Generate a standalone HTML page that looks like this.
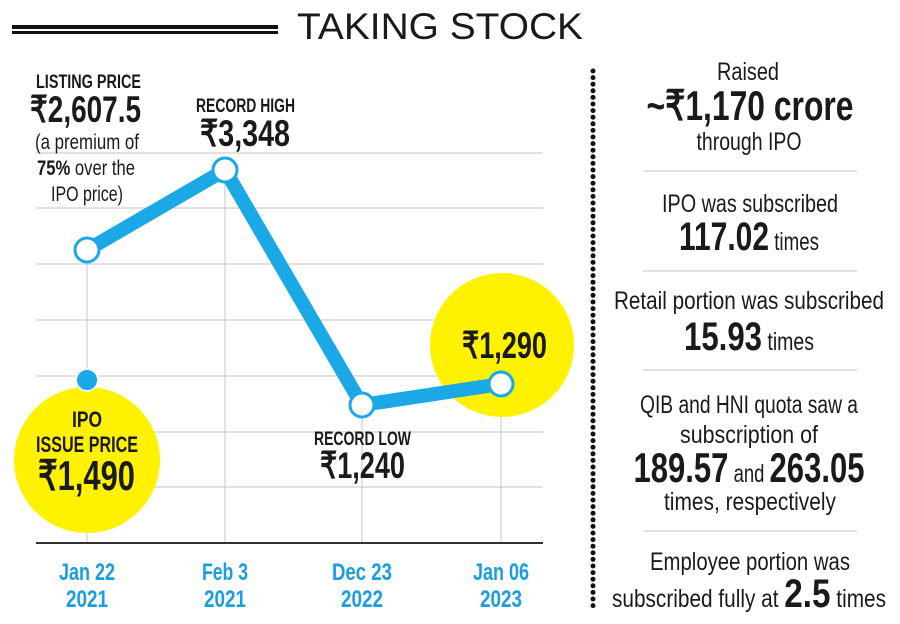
<!DOCTYPE html>
<html><head><meta charset="utf-8"><style>
html,body{margin:0;padding:0;background:#fff;}
svg{display:block;}
text{font-family:"Liberation Sans Narrow","Liberation Sans",sans-serif;fill:#1a1a1a;}
.b{font-weight:bold;}
.x{fill:#1a9ee0;font-weight:bold;font-size:24px;}
</style></head><body>
<svg width="900" height="624" viewBox="0 0 900 624" xmlns="http://www.w3.org/2000/svg">
<rect x="12" y="25" width="266" height="4" fill="#111"/>
<rect x="12" y="31" width="266" height="3" fill="#111"/>
<text x="297" y="39" font-size="37" textLength="286" lengthAdjust="spacingAndGlyphs" style="font-family:'Liberation Sans',sans-serif">TAKING STOCK</text>
<g stroke="#cfcfcf" stroke-width="1.2">
<line x1="36" y1="153" x2="543" y2="153"/><line x1="36" y1="208" x2="543" y2="208"/>
<line x1="36" y1="264" x2="543" y2="264"/><line x1="36" y1="320" x2="543" y2="320"/>
<line x1="36" y1="376" x2="543" y2="376"/><line x1="36" y1="432" x2="543" y2="432"/>
<line x1="36" y1="487" x2="543" y2="487"/>
<line x1="87" y1="240" x2="87" y2="543"/><line x1="225" y1="160" x2="225" y2="543"/>
<line x1="362" y1="400" x2="362" y2="543"/><line x1="501" y1="380" x2="501" y2="543"/>
</g>
<line x1="36" y1="543" x2="543" y2="543" stroke="#333" stroke-width="2"/>
<circle cx="87" cy="460" r="73" fill="#fff200"/>
<circle cx="502" cy="345" r="72" fill="#fff200"/>
<circle cx="87" cy="380" r="11" fill="#1aa8e6" stroke="#fff" stroke-width="2"/>
<polyline points="87,250 225,170 362,405 501,384" fill="none" stroke="#1aa8e6" stroke-width="14" stroke-linejoin="round"/>
<g fill="#fff" stroke="#1aa8e6" stroke-width="3">
<circle cx="87" cy="250" r="12"/><circle cx="225" cy="170" r="12"/>
<circle cx="362" cy="405" r="12"/><circle cx="501" cy="384" r="12"/>
</g>
<text class="b" x="36" y="88" font-size="19" textLength="105" lengthAdjust="spacingAndGlyphs">LISTING PRICE</text>
<text class="b" x="30" y="122" font-size="37" textLength="111" lengthAdjust="spacingAndGlyphs">₹2,607.5</text>
<text x="35" y="149" font-size="21" textLength="104" lengthAdjust="spacingAndGlyphs">(a premium of</text>
<text x="37" y="175" font-size="21" textLength="98" lengthAdjust="spacingAndGlyphs"><tspan class="b">75%</tspan> over the</text>
<text x="51" y="201" font-size="21" textLength="72" lengthAdjust="spacingAndGlyphs">IPO price)</text>
<text class="b" x="196" y="112" font-size="19" textLength="99" lengthAdjust="spacingAndGlyphs">RECORD HIGH</text>
<text class="b" x="200" y="146" font-size="37" textLength="90" lengthAdjust="spacingAndGlyphs">₹3,348</text>
<text class="b" x="72" y="427" font-size="22" textLength="30" lengthAdjust="spacingAndGlyphs">IPO</text>
<text class="b" x="36" y="452" font-size="22" textLength="102" lengthAdjust="spacingAndGlyphs">ISSUE PRICE</text>
<text class="b" x="38" y="490" font-size="42" textLength="97" lengthAdjust="spacingAndGlyphs">₹1,490</text>
<text class="b" x="462" y="358" font-size="37" textLength="85" lengthAdjust="spacingAndGlyphs">₹1,290</text>
<text class="b" x="314" y="445" font-size="19" textLength="97" lengthAdjust="spacingAndGlyphs">RECORD LOW</text>
<text class="b" x="320" y="478" font-size="37" textLength="85" lengthAdjust="spacingAndGlyphs">₹1,240</text>
<g text-anchor="middle">
<text class="x" x="87" y="580" textLength="56" lengthAdjust="spacingAndGlyphs">Jan 22</text><text class="x" x="87" y="607" textLength="42" lengthAdjust="spacingAndGlyphs">2021</text>
<text class="x" x="225" y="580" textLength="46" lengthAdjust="spacingAndGlyphs">Feb 3</text><text class="x" x="225" y="607" textLength="42" lengthAdjust="spacingAndGlyphs">2021</text>
<text class="x" x="362" y="580" textLength="60" lengthAdjust="spacingAndGlyphs">Dec 23</text><text class="x" x="362" y="607" textLength="42" lengthAdjust="spacingAndGlyphs">2022</text>
<text class="x" x="501" y="580" textLength="56" lengthAdjust="spacingAndGlyphs">Jan 06</text><text class="x" x="501" y="607" textLength="42" lengthAdjust="spacingAndGlyphs">2023</text>
</g>
<line x1="593" y1="71" x2="593" y2="610" stroke="#111" stroke-width="5" stroke-dasharray="0 6.6" stroke-linecap="round"/>
<g stroke="#cfcfcf" stroke-width="1.2">
<line x1="643" y1="171" x2="857" y2="171"/><line x1="643" y1="271" x2="857" y2="271"/>
<line x1="643" y1="370" x2="857" y2="370"/><line x1="643" y1="531" x2="857" y2="531"/>
</g>
<g text-anchor="middle" font-size="25">
<text x="748" y="80" textLength="62" lengthAdjust="spacingAndGlyphs">Raised</text>
<text class="b" x="750" y="120" font-size="42" textLength="207" lengthAdjust="spacingAndGlyphs">~₹1,170 crore</text>
<text x="749" y="150" textLength="105" lengthAdjust="spacingAndGlyphs">through IPO</text>
<text x="750" y="212" textLength="176" lengthAdjust="spacingAndGlyphs">IPO was subscribed</text>
<text x="749" y="250" textLength="140" lengthAdjust="spacingAndGlyphs"><tspan class="b" font-size="40">117.02</tspan> times</text>
<text x="749" y="309" textLength="270" lengthAdjust="spacingAndGlyphs">Retail portion was subscribed</text>
<text x="749" y="350" textLength="130" lengthAdjust="spacingAndGlyphs"><tspan class="b" font-size="40">15.93</tspan> times</text>
<text x="749" y="413" textLength="218" lengthAdjust="spacingAndGlyphs">QIB and HNI quota saw a</text>
<text x="749" y="443" textLength="138" lengthAdjust="spacingAndGlyphs">subscription of</text>
<text x="749" y="482" textLength="231" lengthAdjust="spacingAndGlyphs"><tspan class="b" font-size="42">189.57</tspan> and <tspan class="b" font-size="42">263.05</tspan></text>
<text x="750" y="510" textLength="172" lengthAdjust="spacingAndGlyphs">times, respectively</text>
<text x="750" y="570" textLength="200" lengthAdjust="spacingAndGlyphs">Employee portion was</text>
<text x="749" y="607" textLength="274" lengthAdjust="spacingAndGlyphs">subscribed fully at <tspan class="b" font-size="40">2.5</tspan> times</text>
</g>
</svg>
</body></html>
